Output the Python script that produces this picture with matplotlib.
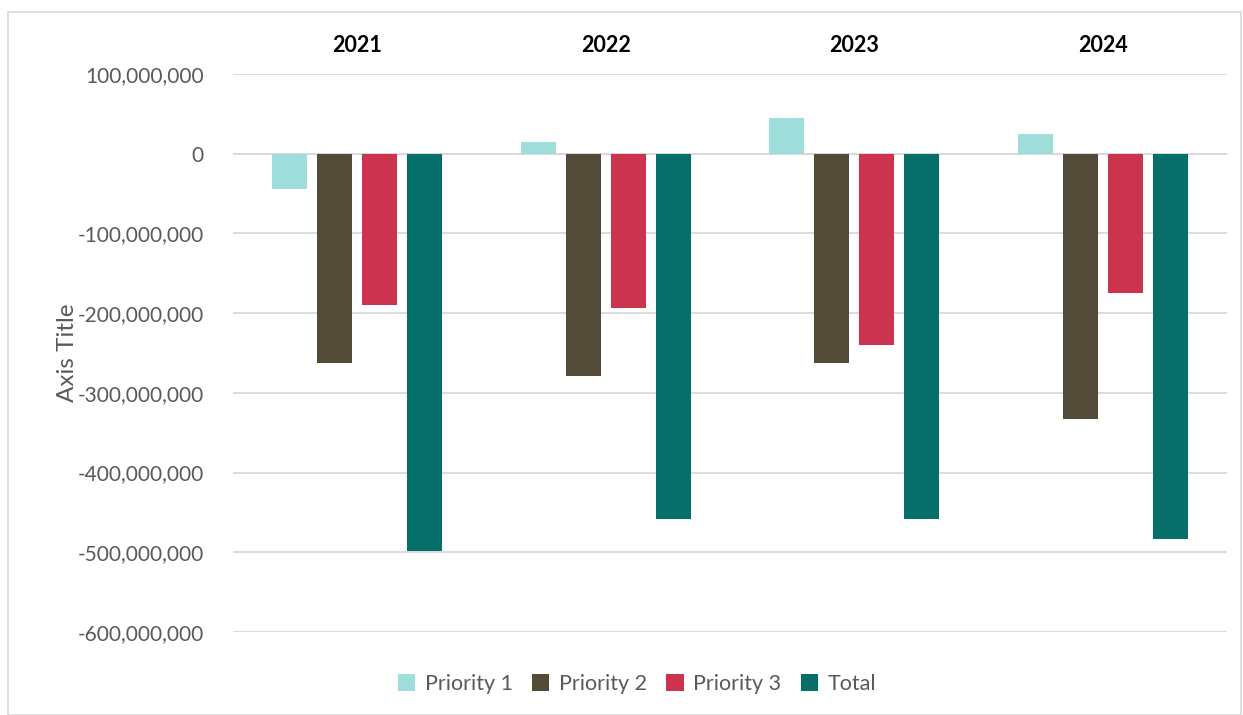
import matplotlib
matplotlib.use("Agg")
import matplotlib.pyplot as plt
from matplotlib.patches import Rectangle
from matplotlib.ticker import FuncFormatter, MultipleLocator
import numpy as np

years = ["2021", "2022", "2023", "2024"]
series_names = ["Priority 1", "Priority 2", "Priority 3", "Total"]
priority1 = [-44e6, 15e6, 45e6, 25e6]
priority2 = [-263e6, -279e6, -263e6, -333e6]
priority3 = [-190e6, -193e6, -240e6, -175e6]
total = [-499e6, -458e6, -458e6, -483e6]
colors = ["#A0DEDC", "#524B38", "#CC334F", "#066F69"]

plt.rcParams['font.family'] = ['Lato', 'DejaVu Sans']

fig = plt.figure(figsize=(12.43, 7.15), dpi=100)
ax = fig.add_axes([233/1243, 1-632/715, (1227-233)/1243, (632-74)/715])

x = np.arange(len(years))
width = 35/248.5
step = 45/248.5
offsets = (np.arange(4) - 1.5) * step
for i, (vals, name) in enumerate(zip([priority1, priority2, priority3, total], series_names)):
    ax.bar(x + offsets[i], vals, width=width, color=colors[i], label=name, zorder=3)

ax.set_xlim(-0.5, len(years) - 0.5)
ax.set_ylim(-600e6, 100e6)
ax.yaxis.set_major_locator(MultipleLocator(100e6))
ax.yaxis.set_major_formatter(FuncFormatter(lambda v, p: f"{v:,.0f}"))
ax.grid(axis='y', color='#D9D9D9', linewidth=1.3, zorder=0)
ax.axhline(0, color='#D9D9D9', linewidth=1.3, zorder=2)
for s in ax.spines.values():
    s.set_visible(False)
ax.tick_params(axis='y', length=0, labelsize=15, labelcolor='#595959', pad=21)
ax.tick_params(axis='x', length=0, labelsize=15.5, pad=13, labelbottom=False, labeltop=True)
ax.set_xticks(x)
ax.set_xticklabels(years, fontweight='bold', color='black')
ax.set_ylabel("Axis Title", fontsize=17.5, color='#595959', labelpad=0)

leg = fig.legend(loc='center', bbox_to_anchor=(637/1243, 1-684/715), ncol=4, frameon=False,
                 fontsize=15.5, handlelength=0.8, handleheight=0.8, handletextpad=0.45,
                 columnspacing=0.9)
for t in leg.get_texts():
    t.set_color('#595959')

fig.patches.append(Rectangle((8/1243, 0), (1241-8)/1243, 1-12/715, transform=fig.transFigure,
                             fill=False, edgecolor='#D9D9D9', linewidth=1.2))

fig.savefig("out.png", dpi=100, facecolor='white')
